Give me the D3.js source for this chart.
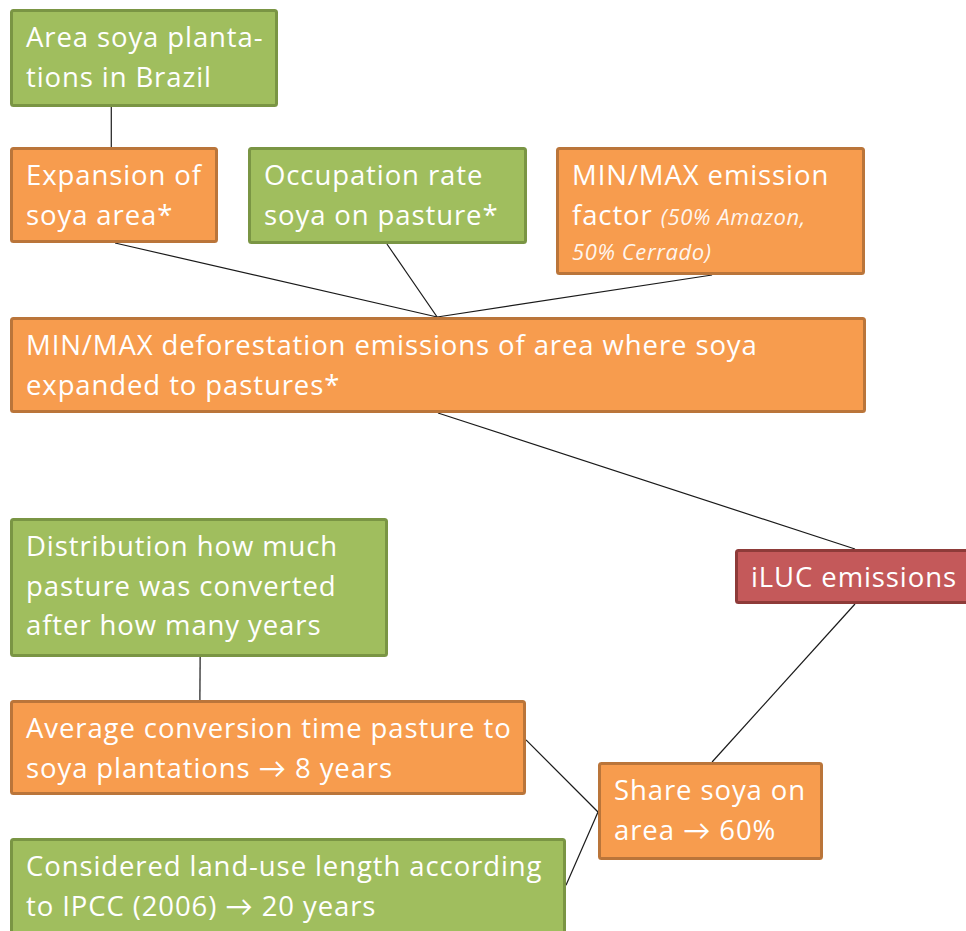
<!DOCTYPE html>
<html>
<head>
<meta charset="utf-8">
<script src="https://cdn.jsdelivr.net/npm/d3@7"></script>
<style>
  html, body { margin: 0; padding: 0; background: #ffffff; }
  svg { display: block; }
</style>
</head>
<body>
<svg id="chart" width="966" height="931"></svg>
<script>
// ---- data ----
const nodeIds = ["area", "expansion", "occupation", "factor", "deforest", "iluc", "distribution", "average", "considered", "share"];
const nodeKinds = ["input", "calc", "input", "calc", "calc", "result", "input", "calc", "input", "calc"];
const nodeLines = [
  [[{t: "Area soya planta-"}], [{t: "tions in Brazil"}]],
  [[{t: "Expansion of"}], [{t: "soya area*"}]],
  [[{t: "Occupation rate"}], [{t: "soya on pasture*"}]],
  [[{t: "MIN/MAX emission"}], [{t: "factor "}, {t: "(50% Amazon,", i: true}], [{t: "50% Cerrado)", i: true}]],
  [[{t: "MIN/MAX deforestation emissions of area where soya"}], [{t: "expanded to pastures*"}]],
  [[{t: "iLUC emissions"}]],
  [[{t: "Distribution how much"}], [{t: "pasture was converted"}], [{t: "after how many years"}]],
  [[{t: "Average conversion time pasture to"}], [{t: "soya plantations \u2192 8 years"}]],
  [[{t: "Considered land-use length according"}], [{t: "to IPCC (2006) \u2192 20 years"}]],
  [[{t: "Share soya on"}], [{t: "area \u2192 60%"}]]
];
const linkSources = ["area", "expansion", "occupation", "factor", "deforest", "iluc", "distribution", "average", "considered"];
const linkTargets = ["expansion", "deforest", "deforest", "deforest", "iluc", "share", "average", "share", "share"];

// ---- layout (positions / sizes, separate from data) ----
const layout = {
  area:         {x: 10,  y: 9,   w: 268, h: 98},
  expansion:    {x: 10,  y: 147, w: 208, h: 96},
  occupation:   {x: 248, y: 147, w: 279, h: 97},
  factor:       {x: 556, y: 147, w: 309, h: 128},
  deforest:     {x: 10,  y: 317, w: 856, h: 96},
  iluc:         {x: 735, y: 549, w: 250, h: 55},
  distribution: {x: 10,  y: 518, w: 378, h: 139},
  average:      {x: 10,  y: 700, w: 516, h: 95},
  considered:   {x: 10,  y: 838, w: 556, h: 110},
  share:        {x: 598, y: 762, w: 225, h: 98}
};
// anchor points of connectors [sourceAnchor, targetAnchor] as fractions of box
const anchors = [
  [[0.378, 1], [0.487, 0]],
  [[0.505, 1], [0.499, 0]],
  [[0.498, 1], [0.499, 0]],
  [[0.505, 1], [0.499, 0]],
  [[0.500, 1], [0.48, 0]],
  [[0.48, 1], [0.507, 0]],
  [[0.503, 1], [0.368, 0]],
  [[1, 0.42], [0, 0.51]],
  [[1, 0.43], [0, 0.51]]
];
const styles = {
  input:  {fill: "#A0BE5E", stroke: "#7A9544"},
  calc:   {fill: "#F79C4E", stroke: "#BA753A"},
  result: {fill: "#C4595A", stroke: "#8E3B39"}
};
const fontSize = 27.5, italicSize = 22, lineHeight = 39.5;

// ---- draw ----
const svg = d3.select("#chart");
const nodes = nodeIds.map((id, i) => ({id, kind: nodeKinds[i], lines: nodeLines[i], ...layout[id]}));
const byId = new Map(nodes.map(n => [n.id, n]));

const links = linkSources.map((s, i) => ({source: byId.get(s), target: byId.get(linkTargets[i]), a: anchors[i]}));

const lineGen = d3.line();
svg.append("g").selectAll("path")
  .data(links)
  .join("path")
  .attr("d", d => lineGen([
    [d.source.x + d.a[0][0] * d.source.w, d.source.y + d.a[0][1] * d.source.h],
    [d.target.x + d.a[1][0] * d.target.w, d.target.y + d.a[1][1] * d.target.h]
  ]))
  .attr("fill", "none")
  .attr("stroke", "#1a1a1a")
  .attr("stroke-width", 1.2);

const g = svg.append("g").selectAll("g")
  .data(nodes)
  .join("g")
  .attr("transform", d => `translate(${d.x},${d.y})`);

g.append("rect")
  .attr("x", 1.5).attr("y", 1.5)
  .attr("width", d => d.w - 3)
  .attr("height", d => d.h - 3)
  .attr("rx", 2)
  .attr("fill", d => styles[d.kind].fill)
  .attr("stroke", d => styles[d.kind].stroke)
  .attr("stroke-width", 3);

const text = g.append("text")
  .attr("font-family", "'Open Sans', Lato, sans-serif")
  .attr("font-size", fontSize)
  .attr("letter-spacing", 0.9)
  .attr("fill", "#ffffff");

text.each(function(d) {
  const t = d3.select(this);
  let y = 38;
  d.lines.forEach((line, li) => {
    line.forEach((seg, si) => {
      const ts = t.append("tspan").text(seg.t);
      if (si === 0) ts.attr("x", 16).attr("y", y);
      if (seg.i) ts.attr("font-style", "italic").attr("font-size", italicSize)
        .attr("letter-spacing", 0.6).attr("fill-opacity", 0.92);
    });
    const italicLine = line.every(s => s.i);
    y += (li >= 1 && (italicLine || line.some(s => s.i))) ? 35 : lineHeight;
  });
});
</script>
</body>
</html>
